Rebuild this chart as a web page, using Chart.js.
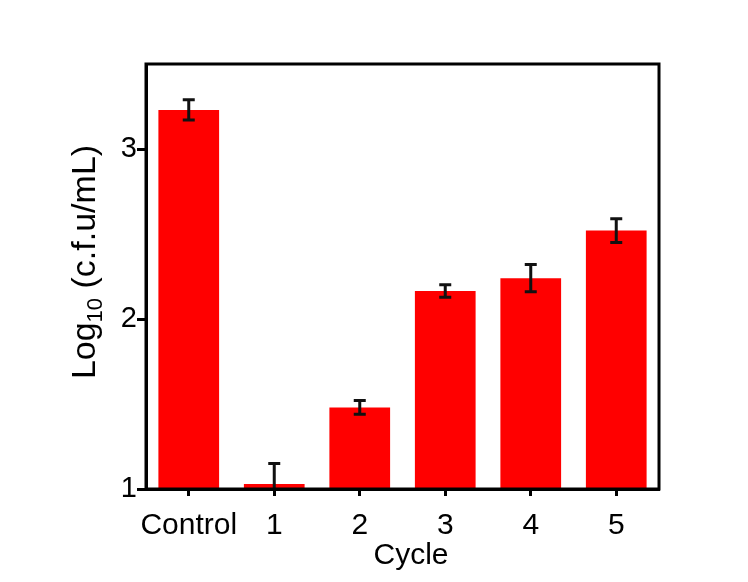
<!DOCTYPE html>
<html>
<head>
<meta charset="utf-8">
<script src="https://cdn.jsdelivr.net/npm/chart.js@4"></script>
<style>
  html, body { margin: 0; padding: 0; background: #fff; }
  #wrap { width: 748px; height: 582px; }
</style>
</head>
<body>
<div id="wrap"><canvas id="chart" width="748" height="582"></canvas></div>
<script>
// datos
const categories = ["Control", "1", "2", "3", "4", "5"];
const means = [3.23, 1.03, 1.48, 2.165, 2.24, 2.52];
const errors = [0.06, 0.12, 0.04, 0.037, 0.08, 0.07];
const yTicks = [1, 2, 3];
const yMin = 1;
const yMax = 3.5;

const FONT = "'Liberation Sans', Arial, sans-serif";

// marco, barras de error y títulos de ejes
const extras = {
    id: "extras",
    afterDatasetsDraw(chart) {
        const { ctx, chartArea: a, scales } = chart;
        const meta = chart.getDatasetMeta(0);

        // barras de error
        ctx.save();
        ctx.beginPath();
        ctx.rect(a.left, a.top, a.right - a.left, a.bottom - a.top);
        ctx.clip();
        ctx.strokeStyle = "#111";
        ctx.lineWidth = 3;
        meta.data.forEach((bar, i) => {
            const x = bar.x;
            const yHi = scales.y.getPixelForValue(means[i] + errors[i]);
            const yLo = scales.y.getPixelForValue(means[i] - errors[i]);
            ctx.beginPath();
            ctx.moveTo(x, yHi);
            ctx.lineTo(x, yLo);
            ctx.moveTo(x - 6, yHi);
            ctx.lineTo(x + 6, yHi);
            ctx.moveTo(x - 6, yLo);
            ctx.lineTo(x + 6, yLo);
            ctx.stroke();
        });
        ctx.restore();

        // marco del área
        ctx.save();
        ctx.strokeStyle = "#000";
        ctx.lineWidth = 3;
        ctx.strokeRect(a.left, a.top, a.right - a.left, a.bottom - a.top);
        ctx.restore();

        // título eje x
        ctx.save();
        ctx.fillStyle = "#000";
        ctx.font = "30px " + FONT;
        ctx.textAlign = "center";
        ctx.textBaseline = "alphabetic";
        ctx.fillText("Cycle", 411, 564);
        ctx.restore();

        // título eje y con subíndice
        ctx.save();
        ctx.fillStyle = "#000";
        ctx.translate(95, 262);
        ctx.rotate(-Math.PI / 2);
        ctx.textBaseline = "alphabetic";
        ctx.textAlign = "left";
        const big = "34px " + FONT;
        const small = "22px " + FONT;
        ctx.font = big;
        const w1 = ctx.measureText("Log").width;
        const w3 = ctx.measureText(" (c.f.u/mL)").width;
        ctx.font = small;
        const w2 = ctx.measureText("10").width;
        let x = -(w1 + w2 + w3) / 2;
        ctx.font = big;
        ctx.fillText("Log", x, 0);
        x += w1;
        ctx.font = small;
        ctx.fillText("10", x, 7);
        x += w2;
        ctx.font = big;
        ctx.fillText(" (c.f.u/mL)", x, 0);
        ctx.restore();
    }
};

new Chart(document.getElementById("chart"), {
    type: "bar",
    data: {
        labels: categories,
        datasets: [{
            data: means,
            backgroundColor: "#ff0000",
            borderWidth: 0,
            barPercentage: 0.71,
            categoryPercentage: 1.0
        }]
    },
    options: {
        responsive: false,
        animation: false,
        layout: { padding: { left: 0, top: 64, right: 89, bottom: 0 } },
        plugins: {
            legend: { display: false },
            tooltip: { enabled: false }
        },
        scales: {
            x: {
                offset: true,
                grid: {
                    offset: false,
                    drawOnChartArea: false,
                    drawTicks: true,
                    tickLength: 7,
                    tickWidth: 3,
                    tickColor: "#000"
                },
                border: { display: true, color: "#000", width: 3 },
                ticks: {
                    color: "#000",
                    font: { family: FONT, size: 30 },
                    padding: 12,
                    maxRotation: 0,
                    autoSkip: false
                },
                afterFit(scale) { scale.height = 93; }
            },
            y: {
                min: yMin,
                max: yMax,
                afterBuildTicks(scale) {
                    scale.ticks = yTicks.map(v => ({ value: v }));
                },
                grid: {
                    drawOnChartArea: false,
                    drawTicks: true,
                    tickLength: 9,
                    tickWidth: 3,
                    tickColor: "#000"
                },
                border: { display: true, color: "#000", width: 3 },
                ticks: {
                    color: "#000",
                    font: { family: FONT, size: 29 },
                    padding: 0
                },
                afterFit(scale) { scale.width = 146; }
            }
        }
    },
    plugins: [extras]
});
</script>
</body>
</html>
